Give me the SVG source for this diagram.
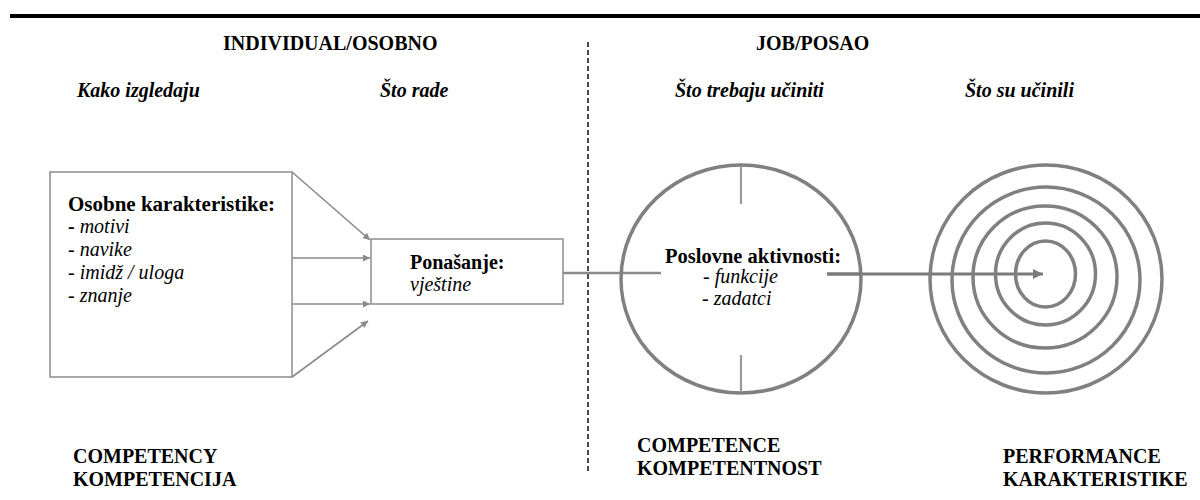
<svg xmlns="http://www.w3.org/2000/svg" width="1200" height="500" viewBox="0 0 1200 500">
<style>
text{font-family:"Liberation Serif","Times New Roman",serif;fill:#000}
.h{font-size:20px;font-weight:bold}
.hi{font-size:20px;font-weight:bold;font-style:italic}
.t{font-size:20px;font-weight:bold}
.i{font-size:20px;font-style:italic}
.box{fill:#fff;stroke:#8c8c8c;stroke-width:1.5}
.conn{stroke:#8a8a8a;stroke-width:1.6;fill:none}
.ring{fill:none;stroke:#808080;stroke-width:3.5}
.tick{stroke:#999;stroke-width:2.2}
</style>
<defs>
<marker id="ah" viewBox="0 0 10 10" refX="10" refY="5" markerWidth="7" markerHeight="7" orient="auto" markerUnits="userSpaceOnUse">
<path d="M0,0 L10,5 L0,10 z" fill="#8a8a8a"/>
</marker>
<marker id="ah2" viewBox="0 0 10 10" refX="10" refY="5" markerWidth="10" markerHeight="10" orient="auto" markerUnits="userSpaceOnUse">
<path d="M0,0 L10,5 L0,10 z" fill="#7a7a7a"/>
</marker>
</defs>

<line x1="10" y1="16" x2="1200" y2="16" stroke="#000" stroke-width="4"/>
<line x1="588" y1="42" x2="588" y2="472" stroke="#000" stroke-width="1.4" stroke-dasharray="5,3"/>

<g id="headers">
<text class="h" x="223" y="50">INDIVIDUAL/OSOBNO</text>
<text class="h" x="756" y="50">JOB/POSAO</text>
<text class="hi" x="77" y="97">Kako izgledaju</text>
<text class="hi" x="380" y="97">Što rade</text>
<text class="hi" x="675" y="97">Što trebaju učiniti</text>
<text class="hi" x="965" y="97">Što su učinili</text>
</g>

<g id="connectors">
<line class="conn" x1="292" y1="172" x2="370" y2="240" marker-end="url(#ah)"/>
<line class="conn" x1="292" y1="258" x2="370" y2="258" marker-end="url(#ah)"/>
<line class="conn" x1="292" y1="304" x2="370" y2="304" marker-end="url(#ah)"/>
<line class="conn" x1="292" y1="377" x2="368" y2="321" marker-end="url(#ah)"/>
<line x1="563" y1="273" x2="661" y2="273" stroke="#8a8a8a" stroke-width="2.5"/>
<line x1="827" y1="274" x2="1043" y2="274" stroke="#7a7a7a" stroke-width="2.8" marker-end="url(#ah2)"/>
</g>

<g id="osobne">
<rect class="box" x="50" y="172" width="242" height="205"/>
<text class="t" x="68" y="211" style="font-size:21px">Osobne karakteristike:</text>
<text x="68" y="233" class="i"><tspan style="font-style:normal;font-weight:bold">-</tspan> motivi</text>
<text x="68" y="256" class="i"><tspan style="font-style:normal">-</tspan> navike</text>
<text x="68" y="279" class="i"><tspan style="font-style:normal">-</tspan> imidž / uloga</text>
<text x="68" y="302" class="i"><tspan style="font-style:normal">-</tspan> znanje</text>
</g>

<g id="ponasanje">
<rect class="box" x="371" y="239" width="192" height="65"/>
<text class="t" x="410" y="269">Ponašanje:</text>
<text class="i" x="410" y="291">vještine</text>
</g>

<g id="poslovne">
<ellipse class="ring" cx="741" cy="279" rx="120" ry="114"/>
<line class="tick" x1="741" y1="167" x2="741" y2="204"/>
<line class="tick" x1="741" y1="355" x2="741" y2="392"/>
<line x1="827" y1="274" x2="861" y2="274" stroke="#7a7a7a" stroke-width="2.8"/>
<text class="t" x="665" y="263" style="font-size:20.5px">Poslovne aktivnosti:</text>
<text class="i" x="703" y="283"><tspan style="font-style:normal">-</tspan> funkcije</text>
<text class="i" x="702" y="305"><tspan style="font-style:normal">-</tspan> zadatci</text>
</g>

<g id="target">
<ellipse class="ring" cx="1046" cy="279" rx="116" ry="114"/>
<ellipse class="ring" cx="1046" cy="280" rx="94" ry="93"/>
<ellipse class="ring" cx="1045" cy="277" rx="72" ry="71"/>
<ellipse class="ring" cx="1045.5" cy="274" rx="50" ry="51"/>
<ellipse class="ring" cx="1045.5" cy="274" rx="30" ry="33"/>
</g>

<g id="labels">
<text class="t" x="73" y="463">COMPETENCY</text>
<text class="t" x="73" y="486">KOMPETENCIJA</text>
<text class="t" x="637" y="452">COMPETENCE</text>
<text class="t" x="637" y="475">KOMPETENTNOST</text>
<text class="t" x="1003" y="463">PERFORMANCE</text>
<text class="t" x="1003" y="486">KARAKTERISTIKE</text>
</g>
</svg>
